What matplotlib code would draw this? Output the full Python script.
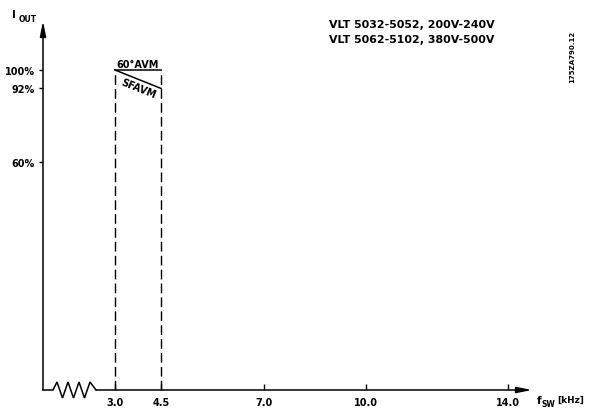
import numpy as np
import matplotlib
matplotlib.use("Agg")
import matplotlib.pyplot as plt
from matplotlib.scale import FuncScale

# ---------------- data ----------------
x_ticks = [3.0, 4.5, 7.0, 10.0, 14.0]
x_tick_labels = ["3.0", "4.5", "7.0", "10.0", "14.0"]
y_ticks = [60, 92, 100]
y_tick_labels = ["60%", "92%", "100%"]
band_freq = [3.0, 4.5]          # switching-frequency range (kHz)
avm_level = [100, 100]          # 60°AVM output current (%)
sfavm_level = [100, 92]         # SFAVM output current (%)
header_lines = ["VLT 5032-5052, 200V-240V", "VLT 5062-5102, 380V-500V"]
drawing_id = "175ZA790.12"

# ---------------- scale (drawing is not linear in kHz) ----------------
anchor_vals = np.array([0.0, 3.0, 4.5, 7.0, 10.0, 14.0, 15.0])
anchor_pos = np.array([0.0, 72.0, 118.0, 221.0, 323.0, 465.0, 497.0])

def fwd(v):
    return np.interp(v, anchor_vals, anchor_pos)

def inv(p):
    return np.interp(p, anchor_pos, anchor_vals)

W, H = 591, 410
fig = plt.figure(figsize=(W / 100, H / 100), dpi=100)
ax = fig.add_axes([43 / W, 19 / H, 489 / W, 369 / H])
ax.set_xscale(FuncScale(ax, (fwd, inv)))
ax.set_xlim(0.0, 14.75)
ax.set_ylim(-39.1, 121.3)
for s in ax.spines.values():
    s.set_visible(False)

FONT = "DejaVu Sans"
fs = 7.0
fs_head = 7.9
lw = 1.1

# ticks
ax.set_xticks(x_ticks)
ax.set_xticklabels(x_tick_labels, fontsize=fs, fontweight="bold", family=FONT)
ax.set_yticks(y_ticks)
ax.set_yticklabels(y_tick_labels, fontsize=fs, fontweight="bold", family=FONT)
ax.tick_params(axis="x", direction="in", length=4, width=1, pad=5)
ax.tick_params(axis="y", direction="out", length=3, width=1, pad=3)
ax.xaxis.set_minor_locator(plt.NullLocator())

# y axis with arrow
ax.annotate("", xy=(0, 1), xytext=(0, 0), xycoords="axes fraction",
            textcoords="axes fraction",
            arrowprops=dict(arrowstyle="-|>,head_length=0.9,head_width=0.18",
                            lw=lw, color="k", shrinkA=0, shrinkB=0))

# x axis with break (zigzag) and arrow, in axes fraction
zx = np.array([0, 10, 14, 19.5, 25, 30.5, 36, 41.5, 47, 53]) / 489
zy = np.array([0, 0, 8, -8, 8, -8, 8, -8, 8, 0]) / 369
ax.plot(zx, zy, color="k", lw=lw, transform=ax.transAxes, clip_on=False,
        solid_joinstyle="miter")
ax.annotate("", xy=(1, 0), xytext=(zx[-1], 0), xycoords="axes fraction",
            textcoords="axes fraction",
            arrowprops=dict(arrowstyle="-|>,head_length=0.9,head_width=0.18",
                            lw=lw, color="k", shrinkA=0, shrinkB=0))

# dashed band limits
ybot = ax.get_ylim()[0]
ax.vlines(band_freq, ybot, avm_level[0], colors="k", lw=1.0,
          linestyles=(0, (7, 3)), clip_on=False)
ax.plot(band_freq, avm_level, color="k", lw=lw, clip_on=False)
ax.plot(band_freq, sfavm_level, color="k", lw=lw, clip_on=False)

# labels on curves
xm = np.mean(band_freq)
ax.annotate("60°AVM", xy=(xm, avm_level[0]), xytext=(0, 0.5),
            textcoords="offset points", ha="center", va="bottom",
            fontsize=fs, fontweight="bold", family=FONT)
fig.canvas.draw()
p0 = ax.transData.transform((band_freq[0], sfavm_level[0]))
p1 = ax.transData.transform((band_freq[1], sfavm_level[1]))
ang = np.degrees(np.arctan2(p1[1] - p0[1], p1[0] - p0[0]))
ax.annotate("SFAVM", xy=(xm, np.mean(sfavm_level)), xytext=(0, -6.5),
            textcoords="offset points", ha="center", va="center",
            rotation=ang, rotation_mode="anchor",
            fontsize=fs, fontweight="bold", family=FONT)

# axis titles
fig.text(12 / W, 1 - 15 / H, "I", fontsize=7.5, fontweight="bold", family=FONT,
         va="center", ha="left")
fig.text(19 / W, 1 - 19 / H, "OUT", fontsize=5.5, fontweight="bold", family=FONT,
         va="center", ha="left")
fig.text(537 / W, 1 - 401 / H, "f", fontsize=7.5, fontweight="bold", family=FONT,
         va="center", ha="left")
fig.text(542 / W, 1 - 405 / H, "SW", fontsize=5.5, fontweight="bold", family=FONT,
         va="center", ha="left")
fig.text(557 / W, 1 - 400 / H, "[kHz]", fontsize=6.4, fontweight="bold",
         family=FONT, va="center", ha="left")

# header
fig.text(329 / W, 1 - 25 / H, header_lines[0], fontsize=fs_head, fontweight="bold",
         family=FONT, va="center", ha="left")
fig.text(329 / W, 1 - 40 / H, header_lines[1], fontsize=fs_head, fontweight="bold",
         family=FONT, va="center", ha="left")
fig.text(572 / W, 1 - 57 / H, drawing_id, fontsize=5, fontweight="bold",
         family=FONT, va="center", ha="center", rotation=90)

fig.savefig("out.png", dpi=100)
